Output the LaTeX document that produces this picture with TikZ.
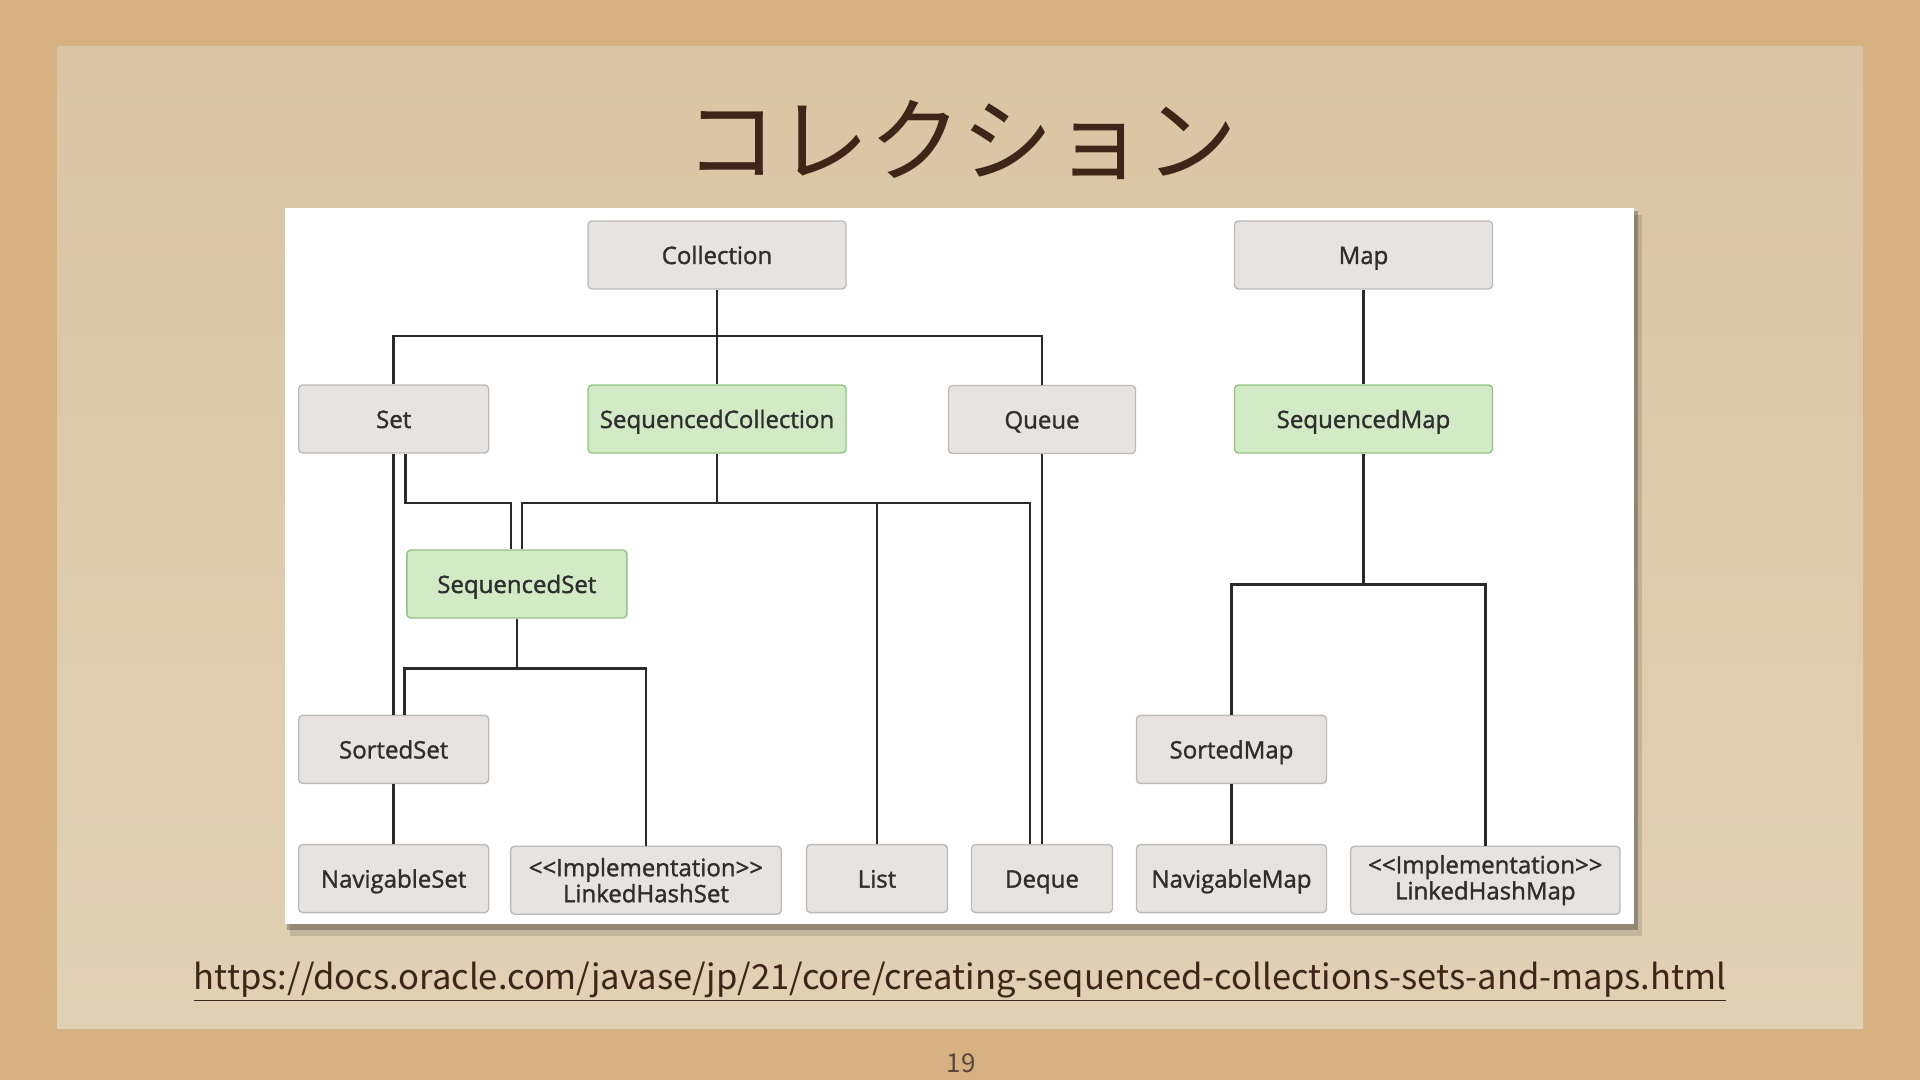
\documentclass[tikz,border=0pt]{standalone}
\usepackage{fontspec}
\usepackage{graphicx}
\setmainfont{Open Sans}[FakeBold=1.4]
\newfontfamily\jpfont{Noto Sans CJK JP}
\usetikzlibrary{positioning}

\definecolor{kraft}{HTML}{D6B283}
\definecolor{paper}{HTML}{D9C5A4}
\definecolor{paperlight}{HTML}{E1D1B4}
\definecolor{ink}{HTML}{3E2518}
\definecolor{boxgray}{HTML}{E6E3E0}
\definecolor{boxline}{HTML}{BDBBB8}
\definecolor{seqgreen}{HTML}{D2EBC6}
\definecolor{seqline}{HTML}{93C283}
\definecolor{txt}{HTML}{2E2E2E}
\definecolor{wire}{HTML}{2A2A2A}

\begin{document}
\begin{tikzpicture}[
    x=0.5pt, y=-0.5pt,
    every node/.style={font=\fontsize{12}{11.5}\selectfont, text=txt},
    box/.style={draw=boxline, fill=boxgray, line width=0.7pt, rounded corners=2pt,
                minimum height=34pt, inner sep=0pt, align=center},
    iface/.style={box, text height=10.5pt, text depth=1.5pt},
    impl/.style={box, yshift=-0.8pt},
    seq/.style={iface, draw=seqline, fill=seqgreen},
    link/.style={draw=wire, line width=1.3pt}
]
\useasboundingbox (0,0) rectangle (1920,1080);
% background: kraft board, paper sheet, white panel
\fill[kraft] (0,0) rectangle (1920,1080);
\shade[top color=paper, bottom color=paperlight] (57,47) rectangle (1863,1028);
\fill[black, opacity=0.12] (290,215) rectangle (1642,936);
\fill[black, opacity=0.25] (287,211) rectangle (1638,930);
\fill[white] (285,208) rectangle (1634,924);

% title, link, page number
\node[font=\jpfont\fontsize{46}{46}\selectfont, text=ink] (title) at (961,140) {コレクション};
\node[anchor=base, text=ink] (url) at (960,989)
  {\resizebox{766pt}{!}{\jpfont\fontsize{15}{15}\selectfont\underline{https://docs.oracle.com/javase/jp/21/core/creating-sequenced-collections-sets-and-maps.html}}};
\node[font=\jpfont\fontsize{13}{13}\selectfont, text=ink!85] (pnum) at (961,1063) {19};

% top row
\node[iface, minimum width=129pt] (coll) at (717,255) {Collection};
\node[iface, minimum width=129pt] (map) at (1363.5,255) {Map};
% second row
\node[iface, minimum width=95pt] (set) at (393.7,419) {Set};
\node[seq, minimum width=129pt] (seqcoll) at (717,419) {SequencedCollection};
\node[iface, minimum width=93.5pt] (queue) at (1042,419.5) {Queue};
\node[seq, minimum width=129pt] (seqmap) at (1363.5,419) {SequencedMap};
% third row
\node[seq, minimum width=110pt] (seqset) at (516.8,584) {SequencedSet};
\node[iface, minimum width=95pt] (sortset) at (393.7,749.4) {SortedSet};
\node[iface, minimum width=95pt] (sortmap) at (1231.5,749.4) {SortedMap};
% bottom row
\node[iface, minimum width=95pt] (navset) at (393.7,878.6) {NavigableSet};
\node[impl, minimum width=135.3pt] (lhset) at (645.9,878.6) {{<}{<}Implementation{>}{>}\\LinkedHashSet};
\node[iface, minimum width=70.5pt] (list) at (877,878.6) {List};
\node[iface, minimum width=70.5pt] (deque) at (1042,878.6) {Deque};
\node[iface, minimum width=95pt] (navmap) at (1231.5,878.6) {NavigableMap};
\node[impl, minimum width=134.7pt] (lhmap) at (1485.3,878.6) {{<}{<}Implementation{>}{>}\\LinkedHashMap};

% bus levels and offset drops
\coordinate (busc) at (0,336);
\coordinate (busss) at (0,503);
\coordinate (buslo) at (0,668.6);
\coordinate (busm) at (0,584.5);
\coordinate (setout) at ([shift={(11.5,0)}]set.south);
\coordinate (ssina) at ([shift={(-6,0)}]seqset.north);
\coordinate (ssinb) at ([shift={(5,0)}]seqset.north);
\coordinate (dqin) at ([shift={(-12,0)}]deque.north);
\coordinate (sortin) at ([shift={(10.5,0)}]sortset.north);

% Collection tree
\draw[link] (coll) -- (seqcoll);
\draw[link] (set.north) -- (set.north |- busc) -- (queue.north |- busc) -- (queue.north);
\draw[link] (set) -- (sortset);
\draw[link] (setout) |- (ssina |- busss) -- (ssina);
\draw[link] (seqcoll.south) -- (seqcoll.south |- busss);
\draw[link] (ssinb) -- (ssinb |- busss) -- (dqin |- busss) -- (dqin);
\draw[link] (list.north) -- (list.north |- busss);
\draw[link] (queue) -- (deque);
\draw[link] (seqset.south) -- (seqset.south |- buslo);
\draw[link] (sortin) |- (lhset.north |- buslo) -- (lhset.north);
\draw[link] (sortset) -- (navset);

% Map tree
\draw[link] (map) -- (seqmap);
\draw[link] (seqmap.south) -- (seqmap.south |- busm);
\draw[link] (sortmap.north) |- (lhmap.north |- busm) -- (lhmap.north);
\draw[link] (sortmap) -- (navmap);
\end{tikzpicture}
\end{document}
